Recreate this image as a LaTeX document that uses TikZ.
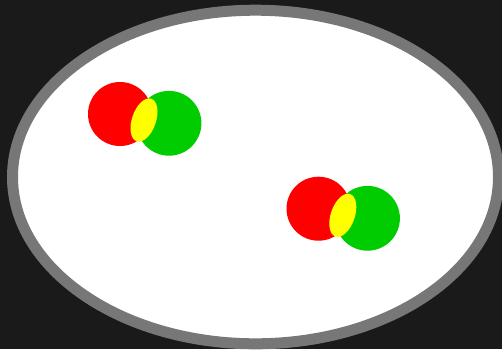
\documentclass[tikz,border=0pt]{standalone}
\definecolor{bgdark}{HTML}{1A1A1A}
\definecolor{rimgray}{HTML}{777777}
\definecolor{vennred}{HTML}{FF0000}
\definecolor{venngreen}{HTML}{00CC00}
\definecolor{vennyellow}{HTML}{FFFF00}
\begin{document}
\begin{tikzpicture}[x=1pt, y=-1pt]
    % Background
    \fill[bgdark] (0,0) rectangle (502,349);
    \useasboundingbox (0,0) rectangle (502,349);

    % Plate
    \draw[line width=11pt, rimgray, fill=white] (255.5,177) ellipse [x radius=243, y radius=166.8];

    % Pair 1
    \fill[vennred] (120,114) circle (32);
    \fill[venngreen] (169,123.3) circle (32.4);
    \fill[vennyellow, rotate around={-19:(144,120)}] (144,120) ellipse [x radius=12, y radius=22.5];

    % Pair 2
    \fill[vennred] (318.5,208.7) circle (32);
    \fill[venngreen] (367.5,218.3) circle (32.4);
    \fill[vennyellow, rotate around={-19:(342.8,215.3)}] (342.8,215.3) ellipse [x radius=12, y radius=22.5];
\end{tikzpicture}
\end{document}
